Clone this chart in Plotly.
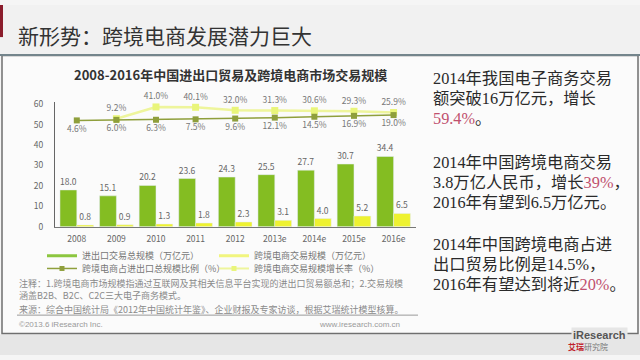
import plotly.graph_objects as go

W, H = 640, 360

years = ["2008", "2009", "2010", "2011", "2012", "2013e", "2014e", "2015e", "2016e"]
trade_total = [18.0, 15.1, 20.2, 23.6, 24.3, 25.5, 27.7, 30.7, 34.4]
cbec_total = [0.8, 0.9, 1.3, 1.8, 2.3, 3.1, 4.0, 5.2, 6.5]
cbec_ratio = [4.6, 6.0, 6.3, 7.5, 9.6, 12.1, 14.5, 16.9, 19.0]
growth_years = ["2009", "2010", "2011", "2012", "2013e", "2014e", "2015e", "2016e"]
cbec_growth = [9.2, 41.0, 40.1, 32.0, 31.3, 30.6, 29.3, 25.9]

name_trade = "进出口交易总规模（万亿元）"
name_cbec = "跨境电商交易规模（万亿元）"
name_ratio = "跨境电商占进出口总规模比例（%）"
name_growth = "跨境电商交易规模增长率（%）"

CJK = "Noto Sans CJK SC, Noto Sans, sans-serif"
SERIF = "Liberation Serif, Noto Sans CJK SC, serif"

GREEN = "#84bd22"
YELLOW = "#eef230"
RATIO_C = "#8f9f3c"
GROWTH_C = "#eef59c"


def px(x):
    return x / W


def py(y):
    return 1 - y / H


fig = go.Figure()

fig.add_trace(go.Bar(
    x=years, y=trade_total, name=name_trade, marker_color=GREEN,
    text=[f"{v:.1f}" for v in trade_total], textposition="outside",
    textfont=dict(size=8.5, color="#666", family=CJK),
    cliponaxis=False, constraintext="none", showlegend=False,
))
fig.add_trace(go.Bar(
    x=years, y=cbec_total, name=name_cbec, marker_color=YELLOW,
    text=[f"{v:.1f}" for v in cbec_total], textposition="outside",
    textfont=dict(size=8.5, color="#666", family=CJK),
    cliponaxis=False, constraintext="none", showlegend=False,
))
fig.add_trace(go.Scatter(
    x=growth_years, y=cbec_growth, name=name_growth, yaxis="y2",
    mode="lines+markers+text", line=dict(color=GROWTH_C, width=2.5),
    marker=dict(symbol="square", size=7, color="#e9f57a"),
    text=[f"{v:.1f}%" for v in cbec_growth], textposition="top center",
    textfont=dict(size=8.5, color="#777", family=CJK),
    cliponaxis=False, showlegend=False,
))
fig.add_trace(go.Scatter(
    x=years, y=cbec_ratio, name=name_ratio, yaxis="y2",
    mode="lines+markers+text", line=dict(color=RATIO_C, width=1.5),
    marker=dict(symbol="square", size=6, color=RATIO_C),
    text=[f"{v:.1f}%" for v in cbec_ratio], textposition="bottom center",
    textfont=dict(size=8.5, color="#777", family=CJK),
    cliponaxis=False, showlegend=False,
))

# legend-only entries
fig.add_trace(go.Scatter(x=[None], y=[None], mode="lines", name=name_trade,
                         line=dict(color="#8cc63f", width=3), legend="legend"))
fig.add_trace(go.Scatter(x=[None], y=[None], mode="lines", name=name_cbec,
                         line=dict(color="#f1f57e", width=3), legend="legend"))
fig.add_trace(go.Scatter(x=[None], y=[None], mode="lines+markers", name=name_ratio,
                         line=dict(color=RATIO_C, width=1.5),
                         marker=dict(symbol="square", size=5, color=RATIO_C), legend="legend2"))
fig.add_trace(go.Scatter(x=[None], y=[None], mode="lines+markers", name=name_growth,
                         line=dict(color=GROWTH_C, width=2),
                         marker=dict(symbol="square", size=5, color="#e9f57a"), legend="legend2"))

shapes = [
    dict(type="rect", xref="paper", yref="paper", x0=0, x1=1, y0=py(52), y1=1,
         fillcolor="#f1f1f1", line_width=0, layer="below"),
    dict(type="rect", xref="paper", yref="paper", x0=0, x1=1, y0=0, y1=py(339),
         fillcolor="#e6e6e6", line_width=0, layer="below"),
    dict(type="rect", xref="paper", yref="paper", x0=px(2), x1=px(638), y0=py(338), y1=py(52),
         fillcolor="#fbfbfb", line=dict(color="#6f6f6f", width=1.5), layer="below"),
    dict(type="line", xref="paper", yref="paper", x0=0, x1=1, y0=py(51.5), y1=py(51.5),
         line=dict(color="#74858c", width=2)),
    dict(type="rect", xref="paper", yref="paper", x0=0, x1=px(3), y0=py(33), y1=1,
         fillcolor="#8b1c2c", line_width=0),
    dict(type="line", xref="paper", yref="paper", x0=px(17), x1=px(418), y0=py(319), y1=py(319),
         line=dict(color="#9a9a9a", width=1)),
]

NOTE_FONT = dict(size=9, color="#8a8a8a", family=CJK)
annotations = [
    dict(text="新形势：跨境电商发展潜力巨大", x=px(16), y=py(31), xanchor="left", yanchor="middle",
         font=dict(size=21, color="#333", family=CJK)),
    dict(text="<b>2008-2016年中国进出口贸易及跨境电商市场交易规模</b>", x=px(230), y=py(71),
         xanchor="center", yanchor="middle", font=dict(size=13, color="#333", family=CJK)),
    dict(text="注释：1.跨境电商市场规模指通过互联网及其相关信息平台实现的进出口贸易额总和；2.交易规模"
              "<br>涵盖B2B、B2C、C2C三大电子商务模式。",
         x=px(17), y=py(293), xanchor="left", yanchor="middle", align="left", font=NOTE_FONT),
    dict(text="来源：综合中国统计局《2012年中国统计年鉴》、企业财报及专家访谈，根据艾瑞统计模型核算。",
         x=px(17), y=py(313), xanchor="left", yanchor="middle", font=NOTE_FONT),
    dict(text="©2013.6 iResearch Inc.", x=px(17), y=py(328.5), xanchor="left", yanchor="middle",
         font=dict(size=8, color="#9a9a9a", family="Liberation Sans, sans-serif")),
    dict(text="www.iresearch.com.cn", x=px(402), y=py(328.5), xanchor="right", yanchor="middle",
         font=dict(size=8, color="#9a9a9a", family="Liberation Sans, sans-serif")),
    dict(text="<b>iResearch</b>", x=px(628), y=py(339), xanchor="right", yanchor="middle",
         font=dict(size=11, color="#555", family="Liberation Sans, sans-serif"), bgcolor="#e6e6e6"),
    dict(text="<span style='color:#c0202a'><b>艾瑞</b></span>研究院", x=px(566), y=py(351), xanchor="left",
         yanchor="middle", font=dict(size=8, color="#777", family=CJK)),
]

RED = "#c0506e"
right_lines = [
    ("2014年我国电子商务交易", 77),
    ("额突破16万亿元，增长", 98),
    (f"<span style='color:{RED}'>59.4%</span>。", 118),
    ("2014年中国跨境电商交易", 163),
    (f"3.8万亿人民币，增长<span style='color:{RED}'>39%</span>，", 184),
    ("2016年有望到6.5万亿元。", 205),
    ("2014年中国跨境电商占进", 248),
    ("出口贸易比例是14.5%，", 268),
    (f"2016年有望达到将近<span style='color:{RED}'>20%</span>。", 289),
]
for txt, yy in right_lines:
    annotations.append(dict(text=txt, x=px(431), y=py(yy - 1.5), xanchor="left", yanchor="middle",
                            font=dict(size=16.3, color="#2a2a2a", family=SERIF)))

for a in annotations:
    a.update(xref="paper", yref="paper", showarrow=False)

fig.update_layout(
    width=W, height=H, autosize=False,
    margin=dict(l=0, r=0, t=0, b=0),
    paper_bgcolor="#f5f5f5", plot_bgcolor="rgba(0,0,0,0)",
    barmode="group", bargap=0.15, bargroupgap=0,
    font=dict(family=CJK),
    xaxis=dict(domain=[px(55), px(416)], type="category", showgrid=False,
               showline=True, linecolor="#777", linewidth=1,
               ticks="outside", ticklen=4, tickcolor="rgba(0,0,0,0)",
               tickfont=dict(size=8.5, color="#666"), fixedrange=True),
    yaxis=dict(domain=[py(228), py(100)], range=[0, 61], showgrid=False, zeroline=False,
               showline=True, linecolor="#666", linewidth=1,
               tickvals=[0, 10, 20, 30, 40, 50, 60],
               ticks="outside", ticklen=9, tickcolor="rgba(0,0,0,0)",
               tickfont=dict(size=8.5, color="#666"), fixedrange=True),
    yaxis2=dict(overlaying="y", range=[-283, 53.8], visible=False, fixedrange=True),
    legend=dict(orientation="h", x=px(42), y=py(258), xanchor="left", yanchor="middle",
                entrywidth=127, entrywidthmode="pixels", itemwidth=30,
                font=dict(size=9, color="#777", family=CJK), bgcolor="rgba(0,0,0,0)"),
    legend2=dict(orientation="h", x=px(42), y=py(271), xanchor="left", yanchor="middle",
                 entrywidth=127, entrywidthmode="pixels", itemwidth=30,
                 font=dict(size=9, color="#777", family=CJK), bgcolor="rgba(0,0,0,0)"),
    shapes=shapes, annotations=annotations,
)

fig.write_html("out.html", config={"displayModeBar": False},
               post_script="document.body.style.margin='0';")
